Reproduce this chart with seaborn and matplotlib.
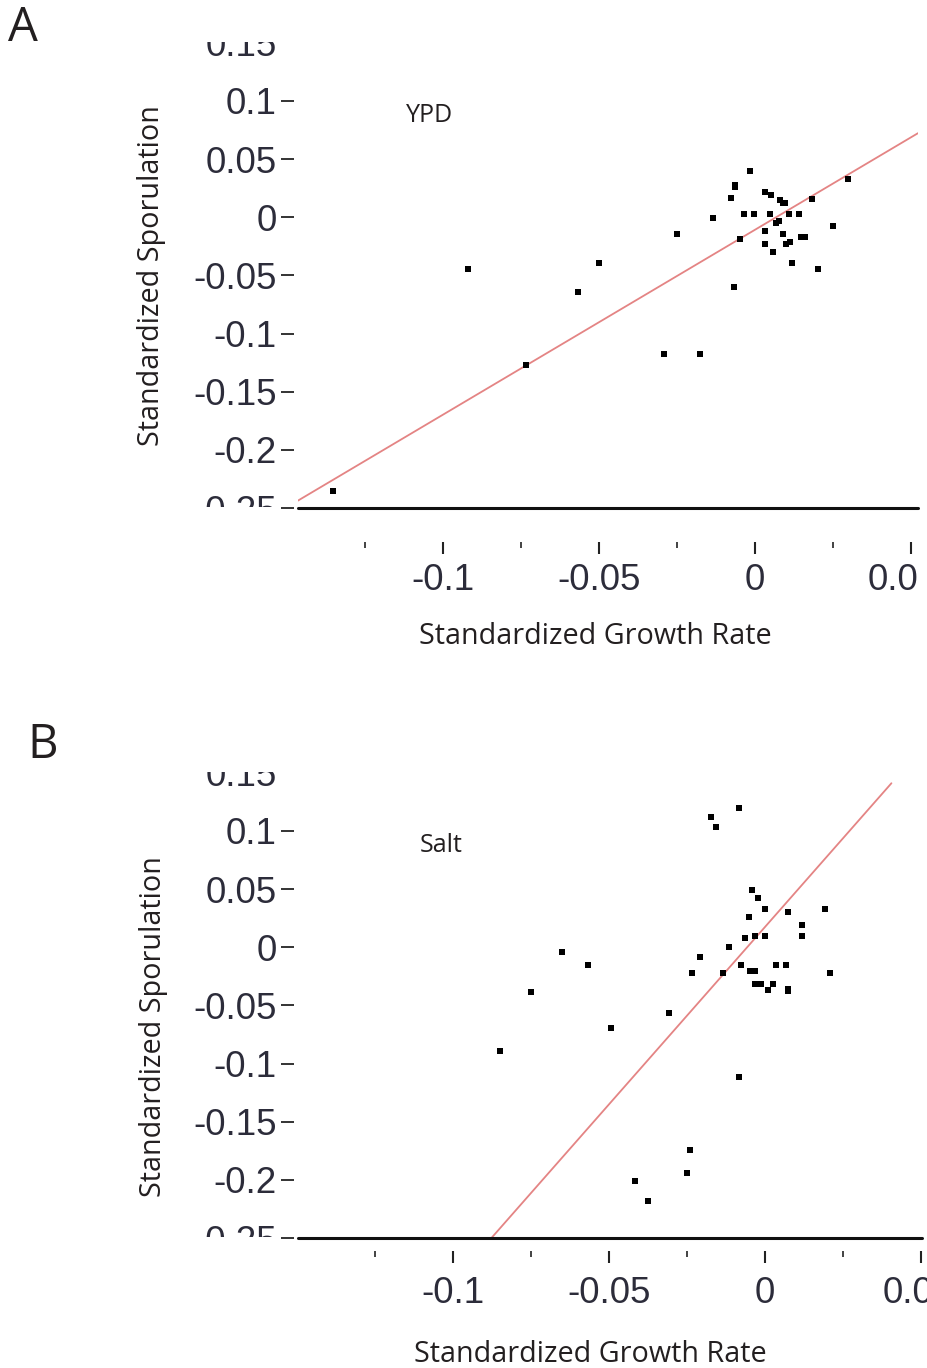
import numpy as np
import pandas as pd
import matplotlib
matplotlib.use("Agg")
import matplotlib.pyplot as plt
import seaborn as sns
from matplotlib.transforms import Bbox, TransformedBbox, ScaledTranslation

# ---------------- data ----------------
# Panel A (YPD)
ypd_growth = [-0.0017, -0.0066, -0.0066, -0.0077, 0.0033, 0.0052, 0.0080, 0.0088, 0.0097,
              0.0182, 0.0299, -0.0136, -0.0036, -0.0004, 0.0049, 0.0108, 0.0140, 0.0066,
              0.0077, -0.0251, -0.0049, 0.0031, 0.0090, 0.0250, 0.0031, 0.0098, 0.0113,
              0.0146, 0.0161, 0.0057, -0.0501, 0.0118, 0.0200, -0.0919, -0.0568, -0.0068,
              -0.0291, -0.0176, -0.0734, -0.1352]
ypd_sporulation = [0.0397, 0.0277, 0.0257, 0.0169, 0.0219, 0.0195, 0.0146, 0.0125, 0.0120,
                   0.0155, 0.0330, -0.0010, 0.0032, 0.0032, 0.0032, 0.0032, 0.0032, -0.0050,
                   -0.0035, -0.0146, -0.0190, -0.0122, -0.0146, -0.0079, -0.0233, -0.0233,
                   -0.0210, -0.0172, -0.0172, -0.0300, -0.0390, -0.0390, -0.0449, -0.0449,
                   -0.0645, -0.0603, -0.1180, -0.1180, -0.1270, -0.2357]
ypd_fit_slope = 1.59
ypd_fit_intercept = -0.0107
ypd_fit_range = [-0.1465, 0.0522]

# Panel B (Salt)
salt_growth = [-0.0084, -0.0173, -0.0158, -0.0043, -0.0024, 0.0000, 0.0074, 0.0193, -0.0051,
               0.0118, 0.0118, -0.0065, -0.0033, 0.0000, -0.0117, -0.0207, -0.0650, -0.0566,
               -0.0235, -0.0136, -0.0077, -0.0049, -0.0033, 0.0035, 0.0068, 0.0209, -0.0033,
               -0.0013, 0.0025, 0.0011, 0.0074, 0.0074, -0.0750, -0.0850, -0.0493, -0.0309,
               -0.0084, -0.0242, -0.0249, -0.0418, -0.0375]
salt_sporulation = [0.1197, 0.1124, 0.1035, 0.0490, 0.0420, 0.0326, 0.0300, 0.0326, 0.0256,
                    0.0190, 0.0097, 0.0076, 0.0097, 0.0097, 0.0006, -0.0085, -0.0040, -0.0156,
                    -0.0224, -0.0224, -0.0156, -0.0200, -0.0200, -0.0156, -0.0156, -0.0224,
                    -0.0315, -0.0315, -0.0315, -0.0370, -0.0355, -0.0375, -0.0383, -0.0894,
                    -0.0694, -0.0563, -0.1117, -0.1740, -0.1937, -0.2006, -0.2183]
salt_fit_slope = 3.05
salt_fit_intercept = 0.0175
salt_fit_range = [-0.095, 0.0405]

y_ticks = [-0.25, -0.2, -0.15, -0.1, -0.05, 0.0, 0.05, 0.1, 0.15]
y_tick_labels = ["-0.25", "-0.2", "-0.15", "-0.1", "-0.05", "0", "0.05", "0.1", "0.15"]
x_ticks = [-0.1, -0.05, 0.0, 0.05]
x_tick_labels = ["-0.1", "-0.05", "0", "0.05"]
x_minor_ticks = [-0.125, -0.075, -0.025, 0.025]

# ---------------- figure ----------------
sns.set_theme(style="white")
plt.rcParams["font.family"] = ["Open Sans", "DejaVu Sans"]

W, H = 928, 1368
fig = plt.figure(figsize=(W / 100, H / 100), dpi=100)
fig.patch.set_facecolor("white")


def px_box(x0, y0, x1, y1):
    return TransformedBbox(Bbox.from_extents(x0 / W, 1 - y1 / H, x1 / W, 1 - y0 / H),
                           fig.transFigure)


def axes_px(left, top, right, bottom):
    return fig.add_axes([left / W, 1 - bottom / H, (right - left) / W, (bottom - top) / H])


TEXT = "#231f20"
TICKTXT = "#2c2c3a"


def panel(ax, xs, ys, slope, intercept, frange, xlim, tick_offset, xpad, ylab_xy, xlab_xy,
          yclip, xclip_right, last_shift):
    df = pd.DataFrame({"growth": xs, "sporulation": ys})
    fx = np.array(frange)
    fit = pd.DataFrame({"growth": fx, "sporulation": intercept + slope * fx})
    sns.lineplot(data=fit, x="growth", y="sporulation", ax=ax, color="#e48484",
                 linewidth=1.3, zorder=2)
    sns.scatterplot(data=df, x="growth", y="sporulation", ax=ax, marker="s", s=16,
                    color="black", linewidth=0, zorder=3)
    ax.set_xlim(*xlim)
    ax.set_ylim(-0.25, 0.1524)
    ax.set_facecolor("white")
    for s in ax.spines.values():
        s.set_visible(False)
    ax.spines["left"].set_position(("outward", 2.9))
    ax.spines["bottom"].set_position(("outward", tick_offset))
    ax.axhline(-0.25, color="#111111", lw=2.2, zorder=4, clip_on=False)

    ax.set_yticks(y_ticks, y_tick_labels)
    ax.set_xticks(x_ticks, x_tick_labels)
    ax.set_xticks(x_minor_ticks, minor=True)
    ax.tick_params(axis="y", which="major", left=True, direction="out", length=9.4,
                   width=1.4, color="#333333", pad=3, labelsize=26.5,
                   labelcolor=TICKTXT, labelfontfamily="Liberation Sans")
    ax.tick_params(axis="x", which="major", bottom=True, direction="out", length=8.6,
                   width=1.5, color="#222222", pad=xpad, labelsize=26.5,
                   labelcolor=TICKTXT, labelfontfamily="Liberation Sans")
    ax.tick_params(axis="x", which="minor", bottom=True, direction="out", length=4.5,
                   width=1.2, color="#222222")

    yt = ax.yaxis.get_major_ticks()
    ybox = px_box(0, yclip[0], W, yclip[1])
    for t in yt:
        t.label1.set_clip_box(ybox)
        t.label1.set_clip_on(True)
    yt[-1].tick1line.set_visible(False)

    xt = ax.xaxis.get_major_ticks()
    xbox = px_box(0, 0, xclip_right, H)
    for t in xt:
        t.label1.set_clip_box(xbox)
        t.label1.set_clip_on(True)
    lab = xt[-1].label1
    lab.set_transform(lab.get_transform() + ScaledTranslation(last_shift / 100, 0,
                                                              fig.dpi_scale_trans))

    ax.set_ylabel("Standardized Sporulation", fontsize=20.7, color=TEXT)
    ax.yaxis.set_label_coords(*ylab_xy)
    ax.yaxis.label.set_va("center")
    ax.set_xlabel("Standardized Growth Rate", fontsize=20.7, color=TEXT)
    ax.xaxis.set_label_coords(*xlab_xy)
    ax.xaxis.label.set_va("center")
    ax.grid(False)


axA = axes_px(298, 40, 918, 508)
panel(axA, ypd_growth, ypd_sporulation, ypd_fit_slope, ypd_fit_intercept, ypd_fit_range,
      (-0.1465, 0.0522), 24.5, 6.5, (-0.236, 0.496), (0.479, -0.274), (42, 507), 918, -8)

axB = axes_px(298, 770, 922, 1238)
panel(axB, salt_growth, salt_sporulation, salt_fit_slope, salt_fit_intercept, salt_fit_range,
      (-0.1497, 0.0503), 9.4, 9.5, (-0.232, 0.451), (0.468, -0.248), (772, 1237), 928, -3)

fig.text(23 / W, 1 - 28 / H, "A", fontsize=34, ha="center", va="center", color=TEXT)
fig.text(43 / W, 1 - 745 / H, "B", fontsize=34, ha="center", va="center", color=TEXT)
fig.text(430 / W, 1 - 115 / H, "YPD", fontsize=18, ha="center", va="center", color=TEXT)
fig.text(441 / W, 1 - 845 / H, "Salt", fontsize=18, ha="center", va="center", color=TEXT)

fig.savefig("out.png", dpi=100)
